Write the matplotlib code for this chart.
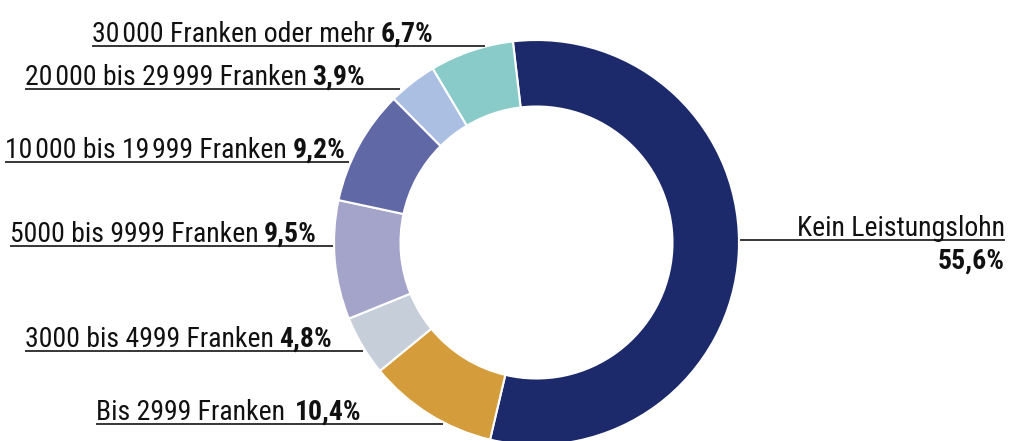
import matplotlib
matplotlib.use("Agg")
import matplotlib.pyplot as plt
from matplotlib import font_manager as fm

labels = ["Kein Leistungslohn", "Bis 2999 Franken", "3000 bis 4999 Franken",
          "5000 bis 9999 Franken", "10\u200a000 bis 19\u200a999 Franken",
          "20\u200a000 bis 29\u200a999 Franken", "30\u200a000 Franken oder mehr"]
values = [55.6, 10.4, 4.8, 9.5, 9.2, 3.9, 6.7]
pct_labels = ["55,6%", "10,4%", "4,8%", "9,5%", "9,2%", "3,9%", "6,7%"]
colors = ["#1c2a6b", "#d59c3b", "#c6ceda", "#a4a4ca", "#6168a6", "#aabfe2", "#88cbc8"]

W, H = 1009, 441
avail = set(f.name for f in fm.fontManager.ttflist)
cands = ["Roboto Condensed", "Archivo Narrow", "Liberation Sans Narrow", "Roboto"]
chosen = [c for c in cands if c in avail]
FONT = (chosen[:1] or ["DejaVu Sans"]) + ["DejaVu Sans"]
FS = 20

fig = plt.figure(figsize=(W / 100, H / 100), dpi=100)
ax = fig.add_axes([0, 0, 1, 1])

def Y(y):
    return H - y

cx, cy, R, ring = 536.5, 242.5, 202.5, 66.5
ax.pie(values, colors=colors, startangle=96.7, counterclock=False,
       radius=R, center=(cx, Y(cy)),
       wedgeprops=dict(width=ring, edgecolor="white", linewidth=1.5))
ax.set_xlim(0, W)
ax.set_ylim(0, H)
ax.set_aspect("equal")
ax.axis("off")

# left labels: (index, line start x, line end x, line y) in pixel positions
left = [(6, 92, 485, 45.5), (5, 25, 400, 89), (4, 5, 349, 162),
        (3, 10, 333, 246), (2, 25, 363, 351), (1, 96, 443, 424)]
for i, x0, x1, ly in left:
    ax.plot([x0, x1], [Y(ly), Y(ly)], color="black", lw=1.1, solid_capstyle="butt")
    t = ax.text(x0, Y(ly - 4), labels[i], family=FONT, fontsize=FS,
                color="#111111", ha="left", va="baseline")
    gap = 7 if i == 1 else 4
    ax.annotate(pct_labels[i], xy=(1, 0), xycoords=t, xytext=(gap, 0),
                textcoords="offset points", family=FONT, fontsize=FS,
                fontweight="bold", color="#111111", ha="left", va="bottom")

# right label
ax.plot([740, 1005], [Y(240), Y(240)], color="black", lw=1.1, solid_capstyle="butt")
ax.text(1005, Y(236), labels[0], family=FONT, fontsize=FS, color="#111111",
        ha="right", va="baseline")
ax.text(1005, Y(269), pct_labels[0], family=FONT, fontsize=FS, fontweight="bold",
        color="#111111", ha="right", va="baseline")

fig.savefig("out.png", dpi=100)
